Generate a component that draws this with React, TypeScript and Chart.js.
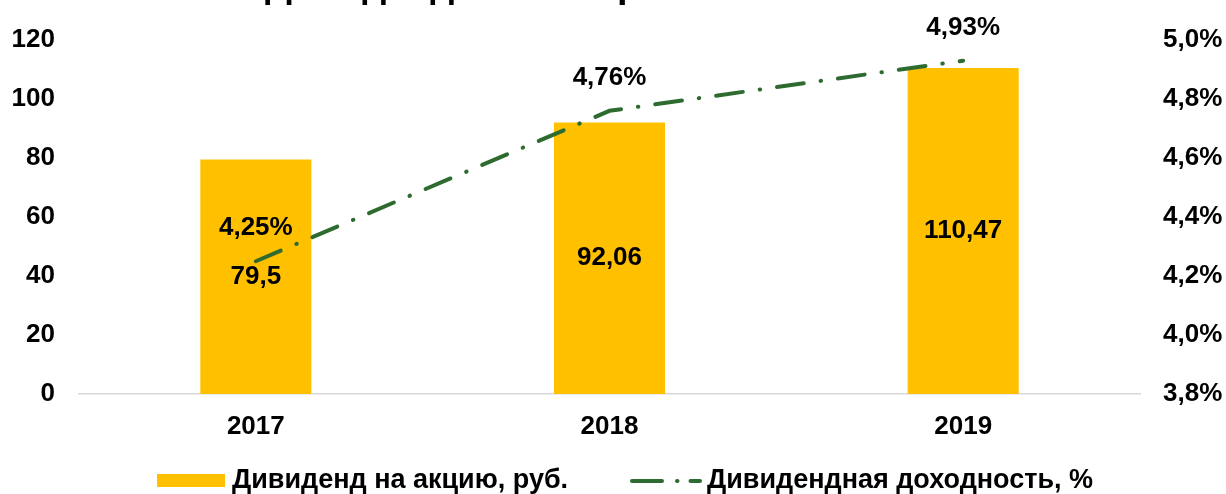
import React, { useEffect, useRef } from "react";
import { Chart, registerables } from "chart.js";

Chart.register(...registerables);

const categories = ["2017", "2018", "2019"];
const dividendPerShare = [79.5, 92.06, 110.47];
const dividendYield = [4.25, 4.76, 4.93];
const titleText = "Дивидендная история компании";
const barLabel = "Дивиденд на акцию, руб.";
const lineLabel = "Дивидендная доходность, %";

const BAR_COLOR = "#FFC000";
const LINE_COLOR = "#2E6B30";
const FONT_FAMILY = "Arial, 'Liberation Sans', sans-serif";
const FS = 26;
const LEGEND_FS = 27;

const fmt = (v: number, d?: number) =>
  (d === undefined ? String(v) : v.toFixed(d)).replace(".", ",");

const overlayPlugin = {
  id: "overlay",
  afterDatasetsDraw(chart: any) {
    const ctx = chart.ctx;
    ctx.save();
    ctx.fillStyle = "#000";
    ctx.font = `bold ${FS}px ${FONT_FAMILY}`;
    ctx.textAlign = "center";
    ctx.textBaseline = "middle";
    const barMeta = chart.getDatasetMeta(0);
    barMeta.data.forEach((el: any, i: number) => {
      const cy = (el.y + el.base) / 2;
      ctx.fillText(fmt(dividendPerShare[i]), el.x, cy);
    });
    const lineMeta = chart.getDatasetMeta(1);
    lineMeta.data.forEach((el: any, i: number) => {
      ctx.fillText(fmt(dividendYield[i], 2) + "%", el.x, el.y - 33);
    });
    ctx.restore();
  },
  afterDraw(chart: any) {
    const ctx = chart.ctx;
    ctx.save();
    // title (mostly cropped in the reference)
    ctx.fillStyle = "#000";
    ctx.font = `bold 38px ${FONT_FAMILY}`;
    ctx.textAlign = "left";
    ctx.textBaseline = "alphabetic";
    ctx.fillText(titleText, 265, -3);

    // legend
    const ly = 481;
    ctx.fillStyle = BAR_COLOR;
    ctx.fillRect(157, 474, 68, 13);
    ctx.fillStyle = "#000";
    ctx.font = `bold ${LEGEND_FS}px ${FONT_FAMILY}`;
    ctx.textBaseline = "middle";
    ctx.fillText(barLabel, 232, ly);

    ctx.strokeStyle = LINE_COLOR;
    ctx.lineWidth = 4;
    ctx.lineCap = "round";
    ctx.setLineDash([30, 15, 0.5, 13]);
    ctx.beginPath();
    ctx.moveTo(632, ly);
    ctx.lineTo(700, ly);
    ctx.stroke();
    ctx.setLineDash([]);
    ctx.fillStyle = "#000";
    ctx.fillText(lineLabel, 707, ly);
    ctx.restore();
  },
};

export default function App() {
  const ref = useRef<HTMLCanvasElement | null>(null);

  useEffect(() => {
    document.body.style.margin = "0";
    const canvas = ref.current;
    if (!canvas) return;
    const tickFont = { family: FONT_FAMILY, size: FS, weight: "bold" as const };
    const chart = new Chart(canvas, {
      type: "bar",
      data: {
        labels: categories,
        datasets: [
          {
            type: "bar",
            label: barLabel,
            data: dividendPerShare,
            backgroundColor: BAR_COLOR,
            borderWidth: 0,
            yAxisID: "y",
            order: 2,
            barPercentage: 0.314,
            categoryPercentage: 1,
          },
          {
            type: "line",
            label: lineLabel,
            data: dividendYield,
            borderColor: LINE_COLOR,
            backgroundColor: LINE_COLOR,
            borderWidth: 4,
            borderDash: [27, 17, 0.5, 17],
            borderCapStyle: "round",
            pointRadius: 0,
            tension: 0,
            yAxisID: "y1",
            order: 1,
          } as any,
        ],
      },
      options: {
        responsive: false,
        animation: false,
        devicePixelRatio: 1,
        layout: { padding: { top: 40, left: 0, right: 0, bottom: 0 } },
        plugins: {
          legend: { display: false },
          tooltip: { enabled: false },
          title: { display: false },
        },
        scales: {
          x: {
            grid: { display: false, drawTicks: false },
            border: { display: true, color: "#D9D9D9", width: 1.5 },
            ticks: { font: tickFont, color: "#000", padding: 17 },
            afterFit: (s: any) => {
              s.height = 100;
            },
          },
          y: {
            position: "left",
            min: 0,
            max: 120,
            ticks: { stepSize: 20, font: tickFont, color: "#000", padding: 24 },
            grid: { display: false, drawTicks: false },
            border: { display: false },
            afterFit: (s: any) => {
              s.width = 79;
            },
          },
          y1: {
            position: "right",
            min: 3.8,
            max: 5.0,
            ticks: {
              stepSize: 0.2,
              font: tickFont,
              color: "#000",
              padding: 23,
              callback: (v: any) => fmt(Number(v), 1) + "%",
            },
            grid: { display: false, drawTicks: false },
            border: { display: false },
            afterFit: (s: any) => {
              s.width = 86;
            },
          },
        },
      },
      plugins: [overlayPlugin],
    });
    return () => chart.destroy();
  }, []);

  return (
    <div style={{ width: 1226, height: 494, background: "#fff" }}>
      <canvas ref={ref} width={1226} height={494} style={{ width: 1226, height: 494, display: "block" }} />
    </div>
  );
}
